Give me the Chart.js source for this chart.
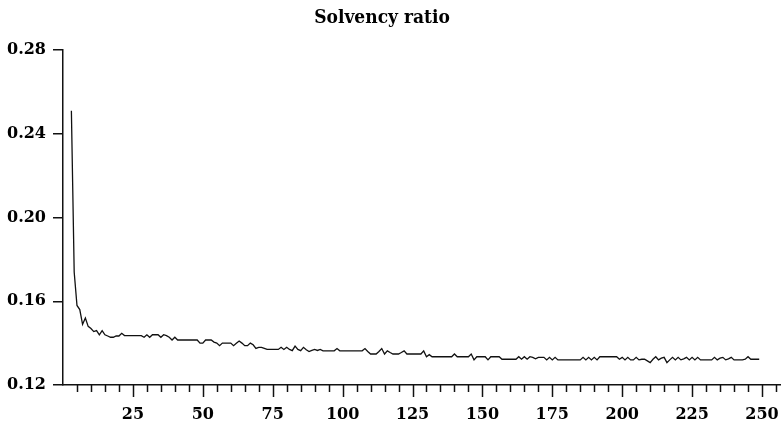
<!DOCTYPE html>
<html>
<head>
<meta charset="utf-8">
<script src="https://cdn.jsdelivr.net/npm/chart.js@4.4.1/dist/chart.umd.min.js"></script>
<style>
  html, body { margin: 0; padding: 0; background: #fff; }
  #wrap { width: 784px; height: 429px; }
</style>
</head>
<body>
<div id="wrap"><canvas id="c" width="784" height="429"></canvas></div>
<script>
const TITLE = "Solvency ratio";
const FIRST_PERIOD = 3;
const solvency = [
  0.251, 0.174, 0.158, 0.156, 0.149, 0.152, 0.148, 0.147, 0.1455, 0.146,
  0.144, 0.146, 0.144, 0.1434, 0.1428, 0.1428, 0.1434, 0.1434, 0.1447, 0.1436,
  0.1436, 0.1436, 0.1436, 0.1436, 0.1436, 0.1436, 0.1428, 0.144, 0.1428, 0.144,
  0.144, 0.144, 0.1428, 0.144, 0.1436, 0.1428, 0.1415, 0.1428, 0.1415, 0.1415,
  0.1415, 0.1415, 0.1415, 0.1415, 0.1415, 0.1415, 0.140, 0.140, 0.1415, 0.1415,
  0.1415, 0.1405, 0.140, 0.1388, 0.140, 0.140, 0.140, 0.140, 0.1388, 0.1399,
  0.141, 0.140, 0.1388, 0.1388, 0.140, 0.1392, 0.1375, 0.138, 0.138, 0.1375,
  0.137, 0.137, 0.137, 0.137, 0.137, 0.138, 0.137, 0.138, 0.137, 0.1364,
  0.1386, 0.137, 0.1364, 0.138, 0.1368, 0.136, 0.1365, 0.137, 0.1365, 0.137,
  0.1363, 0.1363, 0.1363, 0.1363, 0.1363, 0.1374, 0.1363, 0.1363, 0.1363, 0.1363,
  0.1363, 0.1363, 0.1363, 0.1363, 0.1363, 0.1374, 0.136, 0.1348, 0.1348, 0.1348,
  0.136, 0.1374, 0.1348, 0.1363, 0.1355, 0.1348, 0.1348, 0.1348, 0.1355, 0.1363,
  0.1348, 0.1348, 0.1348, 0.1348, 0.1348, 0.1348, 0.1363, 0.1335, 0.1345, 0.1335,
  0.1335, 0.1335, 0.1335, 0.1335, 0.1335, 0.1335, 0.1335, 0.1348, 0.1335, 0.1335,
  0.1335, 0.1335, 0.1335, 0.1348, 0.132, 0.1335, 0.1335, 0.1335, 0.1335, 0.132,
  0.1335, 0.1335, 0.1335, 0.1335, 0.1323, 0.1323, 0.1323, 0.1323, 0.1323, 0.1323,
  0.1335, 0.1323, 0.1335, 0.1323, 0.1335, 0.1332, 0.1325, 0.1332, 0.1332, 0.1332,
  0.132, 0.1332, 0.132, 0.1332, 0.132, 0.132, 0.132, 0.132, 0.132, 0.132,
  0.132, 0.132, 0.132, 0.1332, 0.132, 0.1332, 0.132, 0.1332, 0.132, 0.1335,
  0.1335, 0.1335, 0.1335, 0.1335, 0.1335, 0.1335, 0.1323, 0.1332, 0.132, 0.1332,
  0.132, 0.132, 0.1332, 0.132, 0.1323, 0.1323, 0.1315, 0.1307, 0.1323, 0.1335,
  0.132, 0.1328, 0.1332, 0.1307, 0.132, 0.1332, 0.132, 0.1332, 0.132, 0.1325,
  0.1332, 0.132, 0.1332, 0.132, 0.1332, 0.132, 0.132, 0.132, 0.132, 0.132,
  0.1332, 0.132, 0.1328, 0.1332, 0.132, 0.1325, 0.1332, 0.132, 0.132, 0.132,
  0.132, 0.1323, 0.1335, 0.1323, 0.1323, 0.1323, 0.1323
];
const periods = solvency.map((_, i) => FIRST_PERIOD + i);
const xTickLabels = [25, 50, 75, 100, 125, 150, 175, 200, 225, 250];
const yTickLabels = [0.12, 0.16, 0.20, 0.24, 0.28];

const tickFont = { family: "'DejaVu Serif', serif", size: 16, weight: 'bold' };

// Draws minor (every 5) and major (every 25) x ticks using the x scale
const xTickPlugin = {
  id: 'xTicks',
  afterLayout(chart) {
    // title in the reference sits slightly left of the canvas centre
    if (chart.titleBlock) chart.titleBlock.left -= 18;
  },
  afterDraw(chart) {
    const sc = chart.scales.x;
    const ctx = chart.ctx;
    const y0 = chart.chartArea.bottom;
    ctx.save();
    ctx.strokeStyle = '#111';
    ctx.lineWidth = 1.5;
    sc.ticks.forEach(t => {
      if (t.value <= 0) return;
      const px = Math.round(sc.getPixelForValue(t.value)) + 0.5;
      const len = xTickLabels.includes(t.value) ? 12 : 7;
      ctx.beginPath();
      ctx.moveTo(px, y0);
      ctx.lineTo(px, y0 + len);
      ctx.stroke();
    });
    ctx.restore();
  }
};

new Chart(document.getElementById('c'), {
  type: 'line',
  data: {
    datasets: [{
      data: periods.map((p, i) => ({ x: p, y: solvency[i] })),
      borderColor: '#111',
      borderWidth: 1.3,
      pointRadius: 0,
      tension: 0,
      fill: false
    }]
  },
  options: {
    responsive: false,
    animation: false,
    layout: { padding: { left: 0, right: 2, top: 0, bottom: 0 } },
    plugins: {
      legend: { display: false },
      tooltip: { enabled: false },
      title: {
        display: true,
        text: TITLE,
        color: '#000',
        font: { family: "'DejaVu Serif Condensed', 'DejaVu Serif', serif", size: 19, weight: 'bold', lineHeight: 1.2 },
        padding: { top: 7, bottom: 20.2 }
      }
    },
    scales: {
      x: {
        type: 'linear',
        min: 0,
        max: 256.7,
        afterFit(s) { s.height = 44; },
        border: { display: true, color: '#111', width: 1.5 },
        grid: { display: false, drawTicks: true, tickLength: 12 },
        ticks: {
          stepSize: 5,
          includeBounds: false,
          autoSkip: false,
          maxRotation: 0,
          padding: 8,
          color: '#000',
          font: tickFont,
          callback: v => xTickLabels.includes(v) ? String(v) : ''
        }
      },
      y: {
        min: 0.12,
        max: 0.28,
        afterFit(s) { s.width = 63; },
        border: { display: true, color: '#111', width: 1.5 },
        grid: { drawOnChartArea: false, drawTicks: true, tickLength: 10, color: '#111', lineWidth: 1.5 },
        ticks: {
          stepSize: 0.04,
          padding: 7,
          color: '#000',
          font: tickFont,
          callback: v => {
            const m = yTickLabels.find(t => Math.abs(t - v) < 1e-9);
            return m !== undefined ? m.toFixed(2) : '';
          }
        }
      }
    }
  },
  plugins: [xTickPlugin]
});
</script>
</body>
</html>
